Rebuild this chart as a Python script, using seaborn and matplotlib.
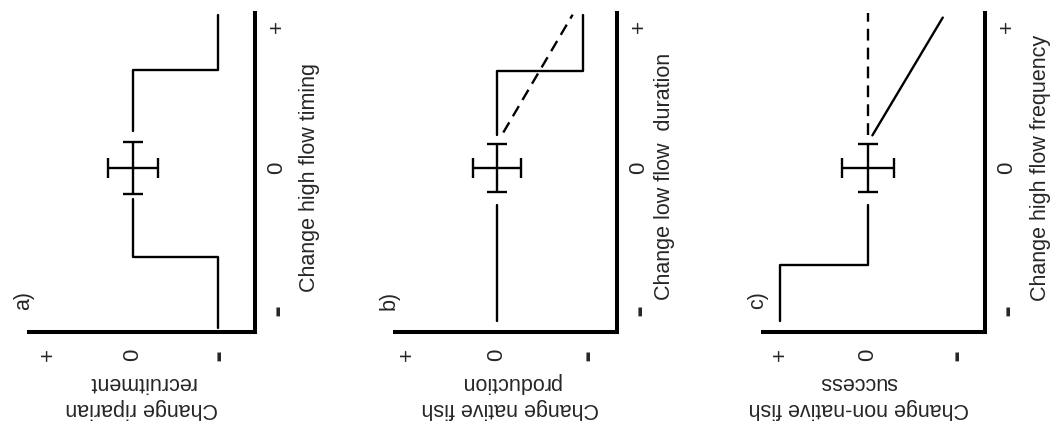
import matplotlib
matplotlib.use("Agg")
import matplotlib.pyplot as plt
import seaborn as sns
import pandas as pd

# response axis: + = 1, 0 = 0, - = -1 ; driver axis: - = -1, 0 = 0, + = 1
panel_tags = ["a)", "b)", "c)"]
driver_labels = ["Change high flow timing", "Change low flow  duration", "Change high flow frequency"]
response_labels = ["Change riparian\nrecruitment", "Change native fish\nproduction", "Change non-native fish\nsuccess"]
driver_ticks = [-1, 0, 1]
driver_ticklabels = ["-", "0", "+"]
response_ticks = [1, 0, -1]
response_ticklabels = ["+", "0", "-"]

# panel a
a_lo_drv = [-1.13, -0.63, -0.63, -0.22]
a_lo_resp = [-1, -1, 0, 0]
a_hi_drv = [0.26, 0.69, 0.69, 1.08]
a_hi_resp = [0, 0, -1, -1]
a_err = (0.29, 0.18)   # response error, driver error

# panel b
b_lo_drv = [-1.08, -0.26]
b_lo_resp = [0, 0]
b_hi_drv = [0.23, 0.68, 0.68, 1.08]
b_hi_resp = [0, 0, -0.95, -0.95]
b_dash_drv = [0.25, 1.08]
b_dash_resp = [-0.07, -0.84]
b_err = (0.27, 0.17)

# panel c
c_lo_drv = [-1.08, -0.68, -0.68, -0.26]
c_lo_resp = [1, 1, 0, 0]
c_hi_drv = [0.23, 1.06]
c_hi_resp = [-0.05, -0.85]
c_dash_drv = [0.23, 1.09]
c_dash_resp = [0, 0]
c_err = (0.30, 0.17)

panels = [
    {"solid": [(a_lo_drv, a_lo_resp), (a_hi_drv, a_hi_resp)], "dashed": [], "err": a_err},
    {"solid": [(b_lo_drv, b_lo_resp), (b_hi_drv, b_hi_resp)], "dashed": [(b_dash_drv, b_dash_resp)], "err": b_err},
    {"solid": [(c_lo_drv, c_lo_resp), (c_hi_drv, c_hi_resp)], "dashed": [(c_dash_drv, c_dash_resp)], "err": c_err},
]

sns.set_style("white")
plt.rcParams['font.family'] = ['Liberation Sans', 'DejaVu Sans']

W, H = 1053, 423
left_px = [29, 395, 763]
width_px = [226, 222, 222]
xlims = [(1.224, -1.435), (1.133, -1.333), (1.193, -1.33)]
ylim = (-1.155, 1.092)
ylabel_x = [1.243, 1.216, 1.248]
ylabel_y = [0.483, 0.489, 0.514]
xlabel_x = [0.50, 0.52, 0.43]

fig = plt.figure(figsize=(10.53, 4.23), dpi=100)
lw = 1.7

for i, p in enumerate(panels):
    ax = fig.add_axes([left_px[i] / W, 1 - 332 / H, width_px[i] / W, 319 / H])
    for drv, resp in p["solid"]:
        df = pd.DataFrame({"resp": resp, "drv": drv})
        sns.lineplot(data=df, x="resp", y="drv", sort=False, estimator=None,
                     color="black", linewidth=lw, ax=ax)
    for drv, resp in p["dashed"]:
        df = pd.DataFrame({"resp": resp, "drv": drv})
        sns.lineplot(data=df, x="resp", y="drv", sort=False, estimator=None,
                     color="black", linewidth=lw, linestyle=(0, (5, 3)), ax=ax)
    ax.errorbar(0, 0, xerr=p["err"][0], yerr=p["err"][1], fmt="none", ecolor="black",
                elinewidth=lw, capsize=7.5, capthick=lw)

    ax.set_xlim(*xlims[i])
    ax.set_ylim(*ylim)
    sns.despine(ax=ax, left=True, right=False, top=True, bottom=False)
    for s in ["right", "bottom"]:
        ax.spines[s].set_linewidth(2.9)
        ax.spines[s].set_color("black")

    ax.set_xticks(response_ticks, labels=response_ticklabels)
    ax.set_yticks(driver_ticks, labels=driver_ticklabels)
    ax.yaxis.tick_right()
    ax.tick_params(axis="both", length=0, labelsize=16, labelrotation=90)
    ax.tick_params(axis="x", pad=16.5)
    ax.tick_params(axis="y", pad=15.8)
    plt.setp(ax.get_xticklabels(), va="center", ha="center")
    plt.setp(ax.get_yticklabels(), va="center", ha="center")
    for t in ax.get_xticklabels() + ax.get_yticklabels():
        if t.get_text() == "-":
            t.set_fontfamily("DejaVu Sans")
            t.set_fontweight("bold")
            t.set_fontsize(21)

    ax.yaxis.set_label_position("right")
    ax.set_ylabel(driver_labels[i], fontsize=15.5, rotation=90)
    ax.yaxis.label.set_va("center")
    ax.yaxis.label.set_ha("center")
    ax.yaxis.set_label_coords(ylabel_x[i], ylabel_y[i])

    ax.set_xlabel(response_labels[i], fontsize=15.5, rotation=180, linespacing=1.3,
                  multialignment="center")
    ax.xaxis.label.set_va("center")
    ax.xaxis.label.set_ha("center")
    ax.xaxis.set_label_coords(xlabel_x[i], -0.2)

    ax.text(-0.025, 0.1, panel_tags[i], transform=ax.transAxes, rotation=90,
            ha="center", va="center", fontsize=15.5)

fig.savefig("out.png", dpi=100)
